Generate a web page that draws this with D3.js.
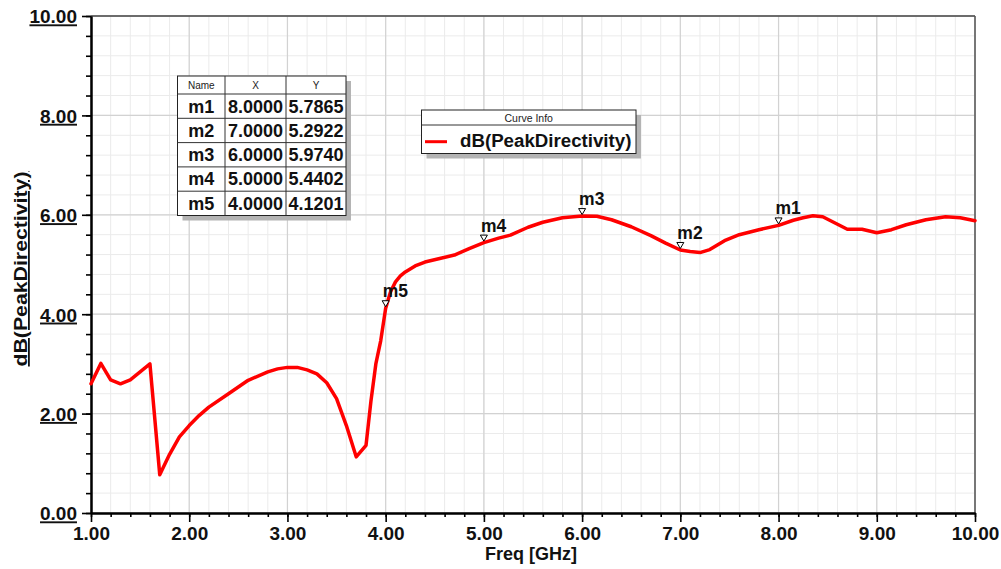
<!DOCTYPE html>
<html>
<head>
<meta charset="utf-8">
<script src="https://cdn.jsdelivr.net/npm/d3@7"></script>
<style>
  html, body { margin: 0; padding: 0; background: #fff; }
  svg { display: block; font-family: Arial, "Liberation Sans", sans-serif; }
</style>
</head>
<body>
<svg id="chart" width="1001" height="569"></svg>
<script>
// Peak directivity sweep (GHz, dB)
const freq = [1.0, 1.1, 1.2, 1.3, 1.4, 1.6, 1.7, 1.8, 1.9, 2.0, 2.1, 2.2, 2.4, 2.6, 2.8, 2.9, 3.0, 3.1, 3.2, 3.3, 3.4, 3.5, 3.6, 3.7, 3.8, 3.85, 3.9, 3.95,
              4.0, 4.05, 4.1, 4.15, 4.2, 4.3, 4.4, 4.55, 4.7, 4.85, 5.0, 5.15, 5.27, 5.45, 5.6, 5.8, 6.0, 6.15, 6.3, 6.5, 6.7, 6.85, 7.0, 7.1, 7.2, 7.3, 7.45, 7.6, 7.8, 8.0,
              8.15, 8.25, 8.35, 8.45, 8.55, 8.7, 8.85, 9.0, 9.15, 9.3, 9.5, 9.7, 9.85, 10.0];
const peakDirectivity = [2.60, 3.01, 2.68, 2.60, 2.68, 3.00, 0.77, 1.18, 1.53, 1.76, 1.96, 2.13, 2.40, 2.67, 2.84, 2.90, 2.93, 2.93, 2.88, 2.80, 2.62, 2.30, 1.76, 1.13, 1.36, 2.25, 3.00, 3.47,
              4.1201, 4.45, 4.65, 4.77, 4.85, 4.97, 5.05, 5.12, 5.19, 5.32, 5.4402, 5.53, 5.59, 5.75, 5.85, 5.94, 5.9740, 5.97, 5.90, 5.76, 5.58, 5.43, 5.2922, 5.26, 5.24, 5.30, 5.48, 5.60, 5.70, 5.7865,
              5.89, 5.94, 5.98, 5.96, 5.86, 5.71, 5.71, 5.64, 5.70, 5.80, 5.90, 5.96, 5.94, 5.88];

// Markers
const markerNames = ["m1", "m2", "m3", "m4", "m5"];
const markerX = [8.0, 7.0, 6.0, 5.0, 4.0];
const markerY = [5.7865, 5.2922, 5.9740, 5.4402, 4.1201];

const xTicks = [1, 2, 3, 4, 5, 6, 7, 8, 9, 10];
const yTicks = [0, 2, 4, 6, 8, 10];

const seriesName = "dB(PeakDirectivity)";
const xTitle = "Freq [GHz]";

const svg = d3.select("#chart");
const plotL = 91, plotR = 975, plotT = 16, plotB = 513;

const x = d3.scaleLinear().domain([1, 10]).range([plotL, plotR]);
const y = d3.scaleLinear().domain([0, 10]).range([plotB, plotT]);

// Minor and major grid
const xMinor = d3.range(1, 10.0001, 0.2);
const yMinor = d3.range(0, 10.0001, 0.4);
const grid = svg.append("g");
grid.selectAll(".gxm").data(xMinor).join("line")
  .attr("x1", d => x(d)).attr("x2", d => x(d)).attr("y1", plotT).attr("y2", plotB)
  .attr("stroke", "#ebebeb").attr("stroke-width", 1);
grid.selectAll(".gym").data(yMinor).join("line")
  .attr("y1", d => y(d)).attr("y2", d => y(d)).attr("x1", plotL).attr("x2", plotR)
  .attr("stroke", "#ebebeb").attr("stroke-width", 1);
grid.selectAll(".gxM").data(xTicks).join("line")
  .attr("x1", d => x(d)).attr("x2", d => x(d)).attr("y1", plotT).attr("y2", plotB)
  .attr("stroke", "#d2d2d2").attr("stroke-width", 1.2);
grid.selectAll(".gyM").data(yTicks).join("line")
  .attr("y1", d => y(d)).attr("y2", d => y(d)).attr("x1", plotL).attr("x2", plotR)
  .attr("stroke", "#d2d2d2").attr("stroke-width", 1.2);

// Frame top/right
svg.append("line").attr("x1", plotL).attr("x2", plotR).attr("y1", plotT).attr("y2", plotT)
  .attr("stroke", "#444").attr("stroke-width", 1.5);
svg.append("line").attr("x1", plotR).attr("x2", plotR).attr("y1", plotT).attr("y2", plotB)
  .attr("stroke", "#555").attr("stroke-width", 1.5);

// Axes
const yAxisMinor = d3.axisLeft(y).tickValues(yMinor).tickSize(5).tickFormat("").tickSizeOuter(0);
const yAxisMajor = d3.axisLeft(y).tickValues(yTicks).tickSize(9).tickFormat(d3.format(".2f")).tickSizeOuter(0).tickPadding(5);
const xAxisMinor = d3.axisBottom(x).tickValues(xMinor).tickSize(4).tickFormat("").tickSizeOuter(0);
const xAxisMajor = d3.axisBottom(x).tickValues(xTicks).tickSize(9).tickFormat(d3.format(".2f")).tickSizeOuter(0).tickPadding(6);

function styleAxis(g) {
  g.select(".domain").attr("stroke", "#000").attr("stroke-width", 2);
  g.selectAll(".tick line").attr("stroke", "#000").attr("stroke-width", 1.6);
  g.selectAll("text").attr("fill", "#111").style("font-size", "19px").style("font-weight", "bold")
    .style("font-family", "Arial, 'Liberation Sans', sans-serif");
}
svg.append("g").attr("transform", `translate(${plotL},0)`).call(yAxisMinor).call(styleAxis);
svg.append("g").attr("transform", `translate(${plotL},0)`).call(yAxisMajor).call(styleAxis)
  .selectAll("text").attr("dy", "0.36em").style("text-decoration", "underline");
svg.append("g").attr("transform", `translate(0,${plotB})`).call(xAxisMinor).call(styleAxis);
svg.append("g").attr("transform", `translate(0,${plotB})`).call(xAxisMajor).call(styleAxis)
  .selectAll("text").attr("dy", "0.62em");

// Axis titles
svg.append("text").attr("x", 531).attr("y", 560).attr("text-anchor", "middle")
  .style("font-size", "18px").style("font-weight", "bold").attr("fill", "#111").text(xTitle);
svg.append("text").attr("transform", "translate(27,269) rotate(-90)").attr("text-anchor", "middle")
  .attr("textLength", 195).attr("lengthAdjust", "spacingAndGlyphs")
  .style("font-size", "18px").style("font-weight", "bold").style("text-decoration", "underline")
  .attr("fill", "#111").text(seriesName);

// Curve
const pts = freq.map((f, i) => [f, peakDirectivity[i]]);
svg.append("path").datum(pts)
  .attr("d", d3.line().x(d => x(d[0])).y(d => y(d[1])).curve(d3.curveLinear))
  .attr("fill", "none").attr("stroke", "#ff0000").attr("stroke-width", 3.5)
  .attr("stroke-linejoin", "round").attr("stroke-linecap", "round");

// Marker glyphs and labels
const mk = svg.append("g");
markerNames.forEach((n, i) => {
  const px = x(markerX[i]), py = y(markerY[i]);
  mk.append("path")
    .attr("d", `M${px - 3.5},${py - 7.5} L${px + 3.5},${py - 7.5} L${px},${py - 1.5} Z`)
    .attr("fill", "#fff").attr("stroke", "#000").attr("stroke-width", 1);
  mk.append("text").attr("x", px - 3).attr("y", py - 11)
    .style("font-size", "17.5px").style("font-weight", "bold").attr("fill", "#111").text(n);
});

// Marker table
const tX = 177.5, tY = 76, colW = [47.5, 61, 60], headH = 18, rowH = 24.3;
const tW = d3.sum(colW), tH = headH + rowH * markerNames.length;
const tbl = svg.append("g");
tbl.append("rect").attr("x", tX + 5).attr("y", tY + 5).attr("width", tW).attr("height", tH).attr("fill", "#b4b4b4");
tbl.append("rect").attr("x", tX).attr("y", tY).attr("width", tW).attr("height", tH)
  .attr("fill", "#fff").attr("stroke", "#222").attr("stroke-width", 1);
const colX = [tX, tX + colW[0], tX + colW[0] + colW[1]];
colX.slice(1).forEach(cx => tbl.append("line").attr("x1", cx).attr("x2", cx).attr("y1", tY).attr("y2", tY + tH)
  .attr("stroke", "#333").attr("stroke-width", 1));
d3.range(markerNames.length).forEach(r => {
  const ly = tY + headH + r * rowH;
  tbl.append("line").attr("x1", tX).attr("x2", tX + tW).attr("y1", ly).attr("y2", ly)
    .attr("stroke", "#333").attr("stroke-width", 1);
});
const headers = ["Name", "X", "Y"];
headers.forEach((h, c) => tbl.append("text").attr("x", colX[c] + colW[c] / 2).attr("y", tY + 13)
  .attr("text-anchor", "middle").style("font-size", "10px").attr("fill", "#222").text(h));
const fmt4 = d3.format(".4f");
markerNames.forEach((n, r) => {
  const by = tY + headH + r * rowH + 18.5;
  [n, fmt4(markerX[r]), fmt4(markerY[r])].forEach((v, c) => tbl.append("text")
    .attr("x", colX[c] + colW[c] / 2).attr("y", by).attr("text-anchor", "middle")
    .style("font-size", "18px").style("font-weight", "bold").attr("fill", "#111").text(v));
});

// Legend
const lg = svg.append("g");
const lX = 421.5, lY = 110, lW = 214.5, lH = 43.5;
lg.append("rect").attr("x", lX + 5).attr("y", lY + 5).attr("width", lW).attr("height", lH).attr("fill", "#b4b4b4");
lg.append("rect").attr("x", lX).attr("y", lY).attr("width", lW).attr("height", lH)
  .attr("fill", "#fff").attr("stroke", "#222").attr("stroke-width", 1);
lg.append("line").attr("x1", lX).attr("x2", lX + lW).attr("y1", lY + 15).attr("y2", lY + 15)
  .attr("stroke", "#333").attr("stroke-width", 1);
lg.append("text").attr("x", lX + lW / 2).attr("y", lY + 12).attr("text-anchor", "middle")
  .style("font-size", "10.5px").attr("fill", "#222").text("Curve Info");
lg.append("line").attr("x1", 425).attr("x2", 447).attr("y1", 141.7).attr("y2", 141.7)
  .attr("stroke", "#ff0000").attr("stroke-width", 3);
lg.append("text").attr("x", 460).attr("y", 147).style("font-size", "18.7px").style("font-weight", "bold")
  .attr("fill", "#111").text(seriesName);
</script>
</body>
</html>
